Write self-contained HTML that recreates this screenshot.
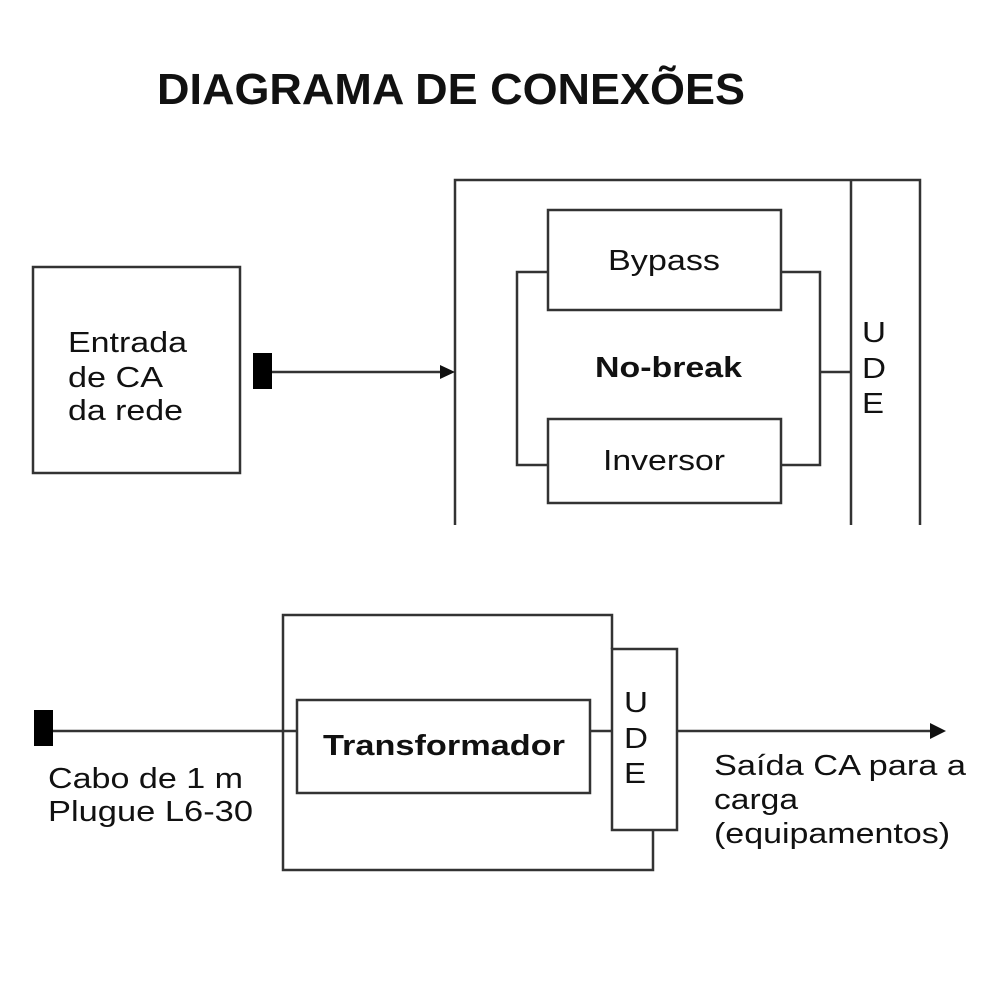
<!DOCTYPE html>
<html><head><meta charset="utf-8"><style>
html,body{margin:0;padding:0;background:#fff;}
svg{display:block;}
text{font-family:"Liberation Sans",Arial,sans-serif;fill:#111;}
</style></head><body>
<svg width="1000" height="1000" viewBox="0 0 1000 1000" xmlns="http://www.w3.org/2000/svg">
<g stroke="#333" stroke-width="2.5" fill="none">
<rect x="33" y="267" width="207" height="206"/>
<path d="M455 525 V180 H920 V525"/>
<line x1="851" y1="180" x2="851" y2="525"/>
<rect x="548" y="210" width="233" height="100"/>
<rect x="548" y="419" width="233" height="84"/>
<path d="M548 272 H517 V465 H548"/>
<path d="M781 272 H820 V465 H781"/>
<line x1="820" y1="372" x2="851" y2="372"/>
<line x1="272" y1="372" x2="445" y2="372"/>
<path d="M612 649 V615 H283 V870 H653 V830"/>
<rect x="612" y="649" width="65" height="181"/>
<rect x="297" y="700" width="293" height="93"/>
<line x1="53" y1="731" x2="297" y2="731"/>
<line x1="590" y1="731" x2="612" y2="731"/>
<line x1="677" y1="731" x2="935" y2="731"/>
</g>
<rect x="253" y="353" width="19" height="36" fill="#000"/>
<rect x="34" y="710" width="19" height="36" fill="#000"/>
<polygon points="455,372 440,365 440,379" fill="#111"/>
<polygon points="946,731 930,723 930,739" fill="#111"/>
<text x="157" y="104" font-size="44" font-weight="bold" textLength="588" lengthAdjust="spacingAndGlyphs">DIAGRAMA DE CONEXÕES</text>
<g font-size="29">
<text x="68" y="352" textLength="119" lengthAdjust="spacingAndGlyphs">Entrada</text>
<text x="68" y="387" textLength="95" lengthAdjust="spacingAndGlyphs">de CA</text>
<text x="68" y="420" textLength="115" lengthAdjust="spacingAndGlyphs">da rede</text>
<text x="608" y="270" textLength="112" lengthAdjust="spacingAndGlyphs">Bypass</text>
<text x="603" y="470" textLength="122" lengthAdjust="spacingAndGlyphs">Inversor</text>
<text x="595" y="377" font-weight="bold" textLength="147" lengthAdjust="spacingAndGlyphs">No-break</text>
<text x="862" y="342" textLength="24" lengthAdjust="spacingAndGlyphs">U</text>
<text x="862" y="378" textLength="24" lengthAdjust="spacingAndGlyphs">D</text>
<text x="862" y="413" textLength="22" lengthAdjust="spacingAndGlyphs">E</text>
<text x="323" y="755" font-weight="bold" textLength="242" lengthAdjust="spacingAndGlyphs">Transformador</text>
<text x="624" y="712" textLength="24" lengthAdjust="spacingAndGlyphs">U</text>
<text x="624" y="748" textLength="24" lengthAdjust="spacingAndGlyphs">D</text>
<text x="624" y="783" textLength="22" lengthAdjust="spacingAndGlyphs">E</text>
<text x="48" y="788" textLength="195" lengthAdjust="spacingAndGlyphs">Cabo de 1 m</text>
<text x="48" y="821" textLength="205" lengthAdjust="spacingAndGlyphs">Plugue L6-30</text>
<text x="714" y="775" textLength="252" lengthAdjust="spacingAndGlyphs">Saída CA para a</text>
<text x="714" y="809" textLength="84" lengthAdjust="spacingAndGlyphs">carga</text>
<text x="714" y="843" textLength="236" lengthAdjust="spacingAndGlyphs">(equipamentos)</text>
</g>
</svg>
</body></html>
